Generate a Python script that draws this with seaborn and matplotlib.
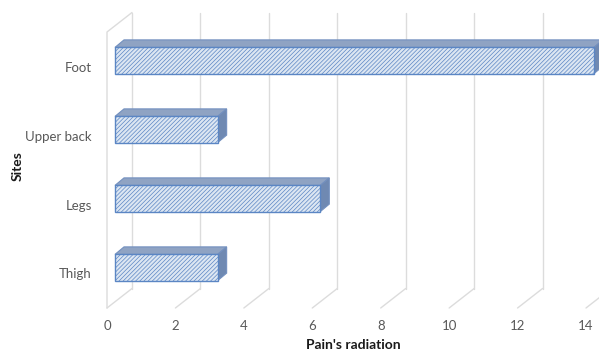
import matplotlib
matplotlib.use("Agg")
import matplotlib.pyplot as plt
import seaborn as sns
import pandas as pd
from matplotlib.patches import Polygon
from matplotlib.lines import Line2D
from matplotlib.transforms import IdentityTransform

# ---- data ----
sites = ["Foot", "Upper back", "Legs", "Thigh"]
radiation = [14, 3, 6, 3]
x_ticks = [0, 2, 4, 6, 8, 10, 12, 14]
x_label = "Pain's radiation"
y_label = "Sites"

df = pd.DataFrame({"site": sites, "value": radiation})

sns.set_style("white")
plt.rcParams["font.family"] = ["Lato", "DejaVu Sans"]
plt.rcParams["hatch.color"] = "#9bb4d8"
plt.rcParams["hatch.linewidth"] = 0.5

W, H = 599, 355
fig = plt.figure(figsize=(W / 100, H / 100), dpi=100)
# front plane of the 3-D box (pixels): x 107..586, y 32..308 (from top)
left_px, right_px, top_px, bot_px = 107, 586, 32, 308
ax = fig.add_axes([left_px / W, (H - bot_px) / H,
                   (right_px - left_px) / W, (bot_px - top_px) / H])

sns.barplot(data=df, x="value", y="site", order=sites, orient="h",
            width=0.38, color="#dce6f2", edgecolor="#5b86c4",
            linewidth=1.0, ax=ax, zorder=3)

ax.set_xlim(0, 14)
ax.set_ylim(len(sites) - 0.5, -0.5)
for s in ax.spines.values():
    s.set_visible(False)
ax.set_xlabel("")
ax.set_ylabel("")
ax.set_xticks(x_ticks)
ax.set_xticklabels([str(t) for t in x_ticks])
ax.tick_params(axis="x", length=0, pad=9, labelsize=9.5, labelcolor="#595959")
ax.tick_params(axis="y", length=0, pad=11, labelsize=9.5, labelcolor="#595959")
ax.set_yticks([i + 0.5 for i in range(len(sites) - 1)], minor=True)
ax.tick_params(axis="y", which="minor", length=4, color="#d0d0d0", width=1)
ax.patch.set_alpha(0)

fig.canvas.draw()
T = ax.transData
ident = IdentityTransform()
D = (25.0, 19.5)      # full depth offset in pixels (right, up)
A = (8.0, 6.0)        # bar front offset
B = (17.0, 13.5)      # bar back offset
grid_c = "#dcdcdc"

def pt(x, y, off=(0, 0)):
    px, py = T.transform((x, y))
    return (px + off[0], py + off[1])

y_top_d, y_bot_d = -0.5, len(sites) - 0.5

# back wall gridlines + floor diagonals
for t in x_ticks:
    p1 = pt(t, y_bot_d, D); p2 = pt(t, y_top_d, D)
    fig.add_artist(Line2D([p1[0], p2[0]], [p1[1], p2[1]], transform=ident,
                          color=grid_c, lw=1, zorder=0))
    f = pt(t, y_bot_d)
    fig.add_artist(Line2D([f[0], p1[0]], [f[1], p1[1]], transform=ident,
                          color=grid_c, lw=1, zorder=0))
# left side wall
fl_t = pt(0, y_top_d); fl_b = pt(0, y_bot_d); bl_t = pt(0, y_top_d, D)
fig.add_artist(Line2D([fl_b[0], fl_t[0], bl_t[0]], [fl_b[1], fl_t[1], bl_t[1]],
                      transform=ident, color=grid_c, lw=1, zorder=0))

# 3-D bars
for bar in list(ax.patches):
    x0, y0 = bar.get_x(), bar.get_y()
    w, h = bar.get_width(), bar.get_height()
    ytop = min(y0, y0 + h)   # inverted axis: smaller data y is higher
    ybot = max(y0, y0 + h)
    xr = x0 + w
    front = [pt(x0, ybot, A), pt(xr, ybot, A), pt(xr, ytop, A), pt(x0, ytop, A)]
    top = [pt(x0, ytop, A), pt(xr, ytop, A), pt(xr, ytop, B), pt(x0, ytop, B)]
    side = [pt(xr, ytop, A), pt(xr, ybot, A), pt(xr, ybot, B), pt(xr, ytop, B)]
    fig.add_artist(Polygon(top, closed=True, transform=ident,
                           facecolor="#8fa3c3", edgecolor="#7390bf", lw=0.8, zorder=4))
    fig.add_artist(Polygon(side, closed=True, transform=ident,
                           facecolor="#6f89b2", edgecolor="#7390bf", lw=0.8, zorder=4))
    fig.add_artist(Polygon(front, closed=True, transform=ident,
                           facecolor="#dce6f2", edgecolor="#5b86c4", lw=1.0,
                           hatch="////////", zorder=5))
    bar.set_visible(False)

fig.text(353 / W, 1 - 345 / H, x_label, ha="center", va="center",
         fontsize=10, fontweight="bold", color="#1a1a1a")
fig.text(18 / W, 1 - 166 / H, y_label, ha="center", va="center",
         rotation=90, fontsize=10, fontweight="bold", color="#1a1a1a")

fig.savefig("out.png", dpi=100, facecolor="white")
